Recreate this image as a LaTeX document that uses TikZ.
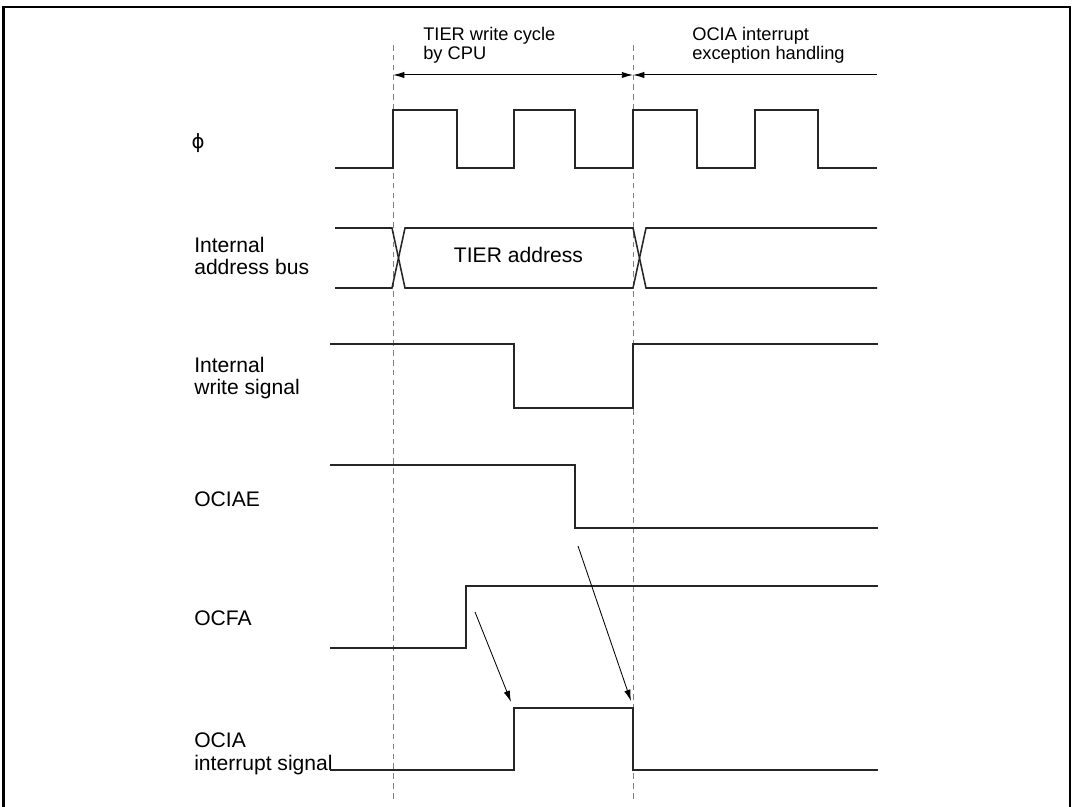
\documentclass[tikz,border=0pt]{standalone}
\usepackage{fontspec}
\setmainfont{Liberation Sans}
\newfontfamily\phifont{DejaVu Sans}
\usetikzlibrary{arrows.meta}
\tikzset{>={Latex[length=8pt,width=4.5pt]}}
\tikzset{
    wave/.style={line width=1.1pt, black!85, line join=miter},
    guide/.style={gray, line width=0.6pt, dash pattern=on 4pt off 3pt},
    siglabel/.style={anchor=base west, align=left, inner sep=0pt, font=\fontsize{15}{16.3}\selectfont},
    headlabel/.style={anchor=base west, align=left, inner sep=0pt, font=\fontsize{13}{13.6}\selectfont}
}

\begin{document}
\begin{tikzpicture}
    \useasboundingbox (0,0) rectangle (26.825,20.15);
    \draw[line width=1.6pt] (0.09,-0.3) |- (26.75,19.98) -- (26.75,-0.3);

    % cycle boundaries
    \coordinate (wTop) at (9.825,19.025);
    \coordinate (wBot) at (9.825,0.1);
    \coordinate (eTop) at (15.825,19.025);
    \coordinate (eBot) at (15.825,0.1);
    \draw[guide] (wTop) -- (wBot);
    \draw[guide] (eTop) -- (eBot);

    \node[headlabel] (tier) at (10.575,18.65) {TIER write cycle\\by CPU};
    \node[headlabel] (exc) at (17.3,18.65) {OCIA interrupt\\exception handling};
    \coordinate (wA) at (9.825,18.275);
    \coordinate (wB) at (15.825,18.275);
    \coordinate (eEnd) at (21.925,18.275);
    \draw[<->, line width=0.7pt] (wA) -- (wB);
    \draw[<-, line width=0.7pt] (wB) -- (eEnd);

    % signal names
    \node[font=\phifont\fontsize{14}{15}\selectfont, inner sep=0pt] (phi) at (4.95,16.575) {ϕ};
    \node[siglabel] (addr) at (4.85,13.275) {Internal\\address bus};
    \node[siglabel] (wr) at (4.85,10.275) {Internal\\write signal};
    \node[siglabel] (ociae) at (4.85,7.475) {OCIAE};
    \node[siglabel] (ocfa) at (4.85,4.5) {OCFA};
    \node[siglabel] (ocia) at (4.85,0.9) {OCIA\\interrupt signal};

    % waveforms
    \draw[wave] (8.375,15.95) -- (9.825,15.95) |- (11.425,17.4) |- (12.85,15.95) |- (14.375,17.4)
        |- (15.825,15.95) |- (17.425,17.4) |- (18.875,15.95) |- (20.45,17.4) |- (21.925,15.95);

    \draw[wave] (8.375,14.45) -- (9.8,14.45) -- (10.125,12.95) -- (15.825,12.95) -- (16.15,14.45) -- (21.925,14.45);
    \draw[wave] (8.375,12.95) -- (9.8,12.95) -- (10.125,14.45) -- (15.825,14.45) -- (16.15,12.95) -- (21.925,12.95);
    \node[font=\fontsize{15}{16}\selectfont, anchor=base, inner sep=0pt] (tieraddr) at (12.96,13.575) {TIER address};

    \draw[wave] (8.25,11.55) -| (12.85,9.95) -| (15.825,11.55) -- (21.95,11.55);
    \draw[wave] (8.25,8.525) -| (14.375,6.95) -- (21.95,6.95);
    \draw[wave] (8.25,3.95) -| (11.65,5.5) -- (21.95,5.5);
    \draw[wave] (8.25,0.9) -| (12.85,2.45) -| (15.825,0.9) -- (21.95,0.9);

    % causes
    \coordinate (setFrom) at (11.875,4.85);
    \coordinate (setTo) at (12.775,2.6);
    \coordinate (clrFrom) at (14.45,6.5);
    \coordinate (clrTo) at (15.775,2.625);
    \draw[->, line width=0.6pt] (setFrom) -- (setTo);
    \draw[->, line width=0.6pt] (clrFrom) -- (clrTo);
\end{tikzpicture}
\end{document}
